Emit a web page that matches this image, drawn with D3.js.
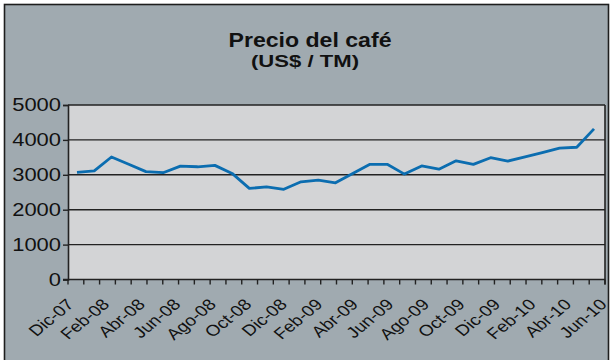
<!DOCTYPE html>
<html>
<head>
<meta charset="utf-8">
<script src="https://cdn.jsdelivr.net/npm/d3@7"></script>
<style>
  html, body { margin: 0; padding: 0; background: #ffffff; }
  svg { display: block; }
  text { font-family: "Liberation Sans", Arial, Helvetica, sans-serif; fill: #111; }
</style>
</head>
<body>
<svg id="chart" width="612" height="360"></svg>
<script>
// Monthly coffee price, US$ per metric ton
const months = [
  "Dic-07","Ene-08","Feb-08","Mar-08","Abr-08","May-08","Jun-08","Jul-08","Ago-08","Sep-08","Oct-08","Nov-08",
  "Dic-08","Ene-09","Feb-09","Mar-09","Abr-09","May-09","Jun-09","Jul-09","Ago-09","Sep-09","Oct-09","Nov-09",
  "Dic-09","Ene-10","Feb-10","Mar-10","Abr-10","May-10","Jun-10"
];
const prices = [
  3070, 3110, 3510, 3300, 3090, 3060, 3250, 3230, 3270, 3040, 2610, 2655,
  2585, 2800, 2845, 2770, 3040, 3300, 3300, 3020, 3255, 3160, 3400, 3300,
  3490, 3395, 3515, 3635, 3765, 3790, 4315
];
// Axis labels (every second month) and value ticks
const axisLabels = ["Dic-07","Feb-08","Abr-08","Jun-08","Ago-08","Oct-08","Dic-08","Feb-09",
                    "Abr-09","Jun-09","Ago-09","Oct-09","Dic-09","Feb-10","Abr-10","Jun-10"];
const yTicks = [0, 1000, 2000, 3000, 4000, 5000];
const minorTickCount = 34;

// text in this chart is drawn slightly widened
const WIDEN = 1.22;

const svg = d3.select("#chart");
const plot = { left: 68, right: 605, top: 105, bottom: 279.5 };

// outer panel
svg.append("rect")
  .attr("x", 4.5).attr("y", 4.5)
  .attr("width", 604).attr("height", 400)
  .attr("fill", "#a0aab0")
  .attr("stroke", "#1e1e1e").attr("stroke-width", 1.6);

// plot area
svg.append("rect")
  .attr("x", plot.left).attr("y", plot.top)
  .attr("width", plot.right - plot.left).attr("height", plot.bottom - plot.top)
  .attr("fill", "#d3d4d6");

const y = d3.scaleLinear().domain([0, 5000]).range([plot.bottom, plot.top]);
const x = d3.scalePoint().domain(months).range([plot.left + 9, plot.right - 11]);
const xLab = d3.scalePoint().domain(axisLabels).range([plot.left + 7, plot.right + 3]);
const xMinor = d3.scaleLinear().domain([0, minorTickCount]).range([plot.left, plot.right]);

// horizontal gridlines
svg.append("g").selectAll("line").data(yTicks.filter(v => v > 0)).join("line")
  .attr("x1", plot.left).attr("x2", plot.right)
  .attr("y1", d => y(d)).attr("y2", d => y(d))
  .attr("stroke", "#222").attr("stroke-width", 1.4);

// right frame edge
svg.append("line")
  .attr("x1", plot.right).attr("x2", plot.right)
  .attr("y1", plot.top).attr("y2", plot.bottom + 5)
  .attr("stroke", "#222").attr("stroke-width", 1.6);

// y axis
const yAxis = d3.axisLeft(y).tickValues(yTicks).tickSize(5).tickPadding(4).tickFormat(d3.format("d"));
const gy = svg.append("g").attr("transform", `translate(${plot.left},0)`).call(yAxis);
gy.select(".domain").attr("stroke", "#222").attr("stroke-width", 1.6);
gy.selectAll(".tick line").attr("stroke", "#222").attr("stroke-width", 1.4);
gy.selectAll(".tick text")
  .attr("x", null)
  .attr("transform", `translate(-7,0) scale(${WIDEN},1)`)
  .style("font-size", "18px").attr("fill", "#111");

// x axis baseline and minor ticks
const gx = svg.append("g");
gx.append("line")
  .attr("x1", plot.left - 5).attr("x2", plot.right)
  .attr("y1", plot.bottom).attr("y2", plot.bottom)
  .attr("stroke", "#222").attr("stroke-width", 1.6);
gx.selectAll("line.tk").data(d3.range(minorTickCount + 1)).join("line")
  .attr("class", "tk")
  .attr("x1", d => xMinor(d)).attr("x2", d => xMinor(d))
  .attr("y1", plot.bottom).attr("y2", plot.bottom + 5)
  .attr("stroke", "#222").attr("stroke-width", 1.4);

// rotated month labels
gx.selectAll("text").data(axisLabels).join("text")
  .attr("transform", d => `translate(${xLab(d)},${plot.bottom + 26}) scale(${WIDEN},1) rotate(-45)`)
  .attr("text-anchor", "end")
  .style("font-size", "15.5px")
  .text(d => d);

// price line
const line = d3.line().x((d, i) => x(months[i])).y(d => y(d));
svg.append("path")
  .datum(prices)
  .attr("d", line)
  .attr("fill", "none")
  .attr("stroke", "#0b6db0")
  .attr("stroke-width", 2.8)
  .attr("stroke-linejoin", "round");

// titles
svg.append("text")
  .attr("transform", `translate(310,47) scale(1.1,1)`)
  .attr("text-anchor", "middle")
  .style("font-size", "21px").style("font-weight", "bold")
  .text("Precio del café");
svg.append("text")
  .attr("transform", `translate(305,67) scale(1.3,1)`)
  .attr("text-anchor", "middle")
  .style("font-size", "17px").style("font-weight", "bold")
  .text("(US$ / TM)");
</script>
</body>
</html>
